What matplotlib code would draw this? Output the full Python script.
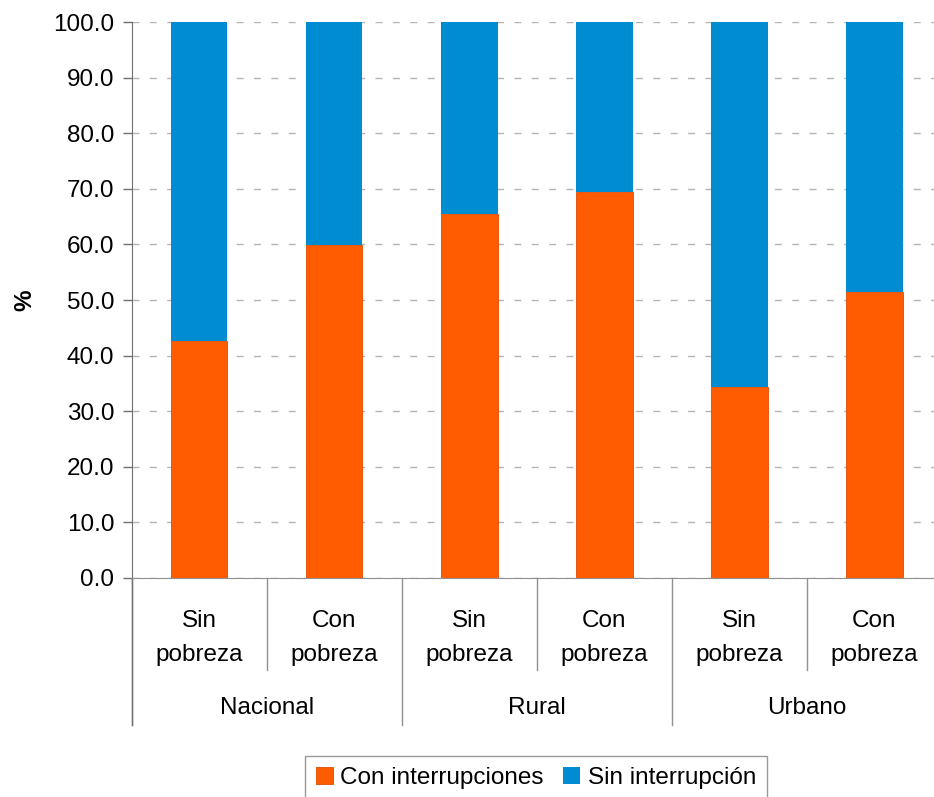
import numpy as np
import matplotlib
matplotlib.use("Agg")
import matplotlib.pyplot as plt
from matplotlib.transforms import blended_transform_factory

# ── Datos ─────────────────────────────────────────────────────────────────────
grupos = ["Nacional", "Rural", "Urbano"]
categorias = ["Sin\npobreza", "Con\npobreza"] * 3
con_interrupciones = [42.6, 59.9, 65.5, 69.5, 34.4, 51.4]
sin_interrupcion = [100 - v for v in con_interrupciones]
yticks = np.arange(0, 101, 10)

# ── Estilo ────────────────────────────────────────────────────────────────────
plt.rcParams["font.family"] = ["Liberation Sans", "DejaVu Sans"]
NARANJA = "#FF5B00"
AZUL = "#008CD1"
FS = 17.5

fig = plt.figure(figsize=(9.34, 7.97), dpi=100)
W, H = 934, 797
ax = fig.add_axes([131.5 / W, (H - 578) / H, (942 - 131.5) / W, 556 / H])

x = np.arange(len(categorias))
ancho = 0.42
ax.bar(x, con_interrupciones, ancho, color=NARANJA, edgecolor="#E04A00",
       linewidth=0.6, label="Con interrupciones", zorder=3)
ax.bar(x, sin_interrupcion, ancho, bottom=con_interrupciones, color=AZUL,
       linewidth=0, label="Sin interrupción", zorder=2)

ax.set_xlim(-0.5, len(categorias) - 0.5)
ax.set_ylim(0, 100)
ax.set_yticks(yticks)
ax.set_yticklabels([f"{v:.1f}" for v in yticks], fontsize=FS)
ax.yaxis.grid(True, color="#b4b4b4", linestyle=(0, (5, 7.5)), linewidth=1.0, zorder=0)
ax.set_axisbelow(True)
ax.tick_params(axis="y", direction="out", length=6.5, width=1, color="#707070", pad=6)
ax.set_xticks([])
for lado in ["top", "right"]:
    ax.spines[lado].set_visible(False)
ax.spines["left"].set_color("#707070")
ax.spines["bottom"].set_color("#909090")
ax.set_ylabel("%", fontsize=FS, fontweight="bold", labelpad=12)

# ── Eje categórico con dos niveles ────────────────────────────────────────────
trans = blended_transform_factory(ax.transData, ax.transAxes)
y_corto = -92 / 556
y_largo = -147 / 556
for i in range(len(categorias)):
    xb = i - 0.5
    bajo = y_largo if i % 2 == 0 else y_corto
    ax.plot([xb, xb], [0, bajo], transform=trans, color="#909090",
            lw=1, clip_on=False)
ax.plot([-0.5, -0.5], [0, y_largo], transform=trans, color="#707070",
        lw=1, clip_on=False)

for xi, etiqueta in zip(x, categorias):
    ax.text(xi, -60 / 556, etiqueta, transform=trans, ha="center", va="center",
            fontsize=FS, linespacing=1.75)
for g, nombre in enumerate(grupos):
    ax.text(2 * g + 0.5, -130 / 556, nombre, transform=trans, ha="center",
            va="center", fontsize=FS)

# ── Leyenda ───────────────────────────────────────────────────────────────────
leg = fig.legend(loc="center", bbox_to_anchor=(536 / W, (H - 778) / H),
                 ncol=2, fontsize=FS, frameon=True, fancybox=False,
                 handlelength=0.7, handleheight=0.7, handletextpad=0.3,
                 columnspacing=0.8, borderpad=0.45)
leg.get_frame().set_edgecolor("#808080")
leg.get_frame().set_linewidth(1)

fig.savefig("out.png", dpi=100)
